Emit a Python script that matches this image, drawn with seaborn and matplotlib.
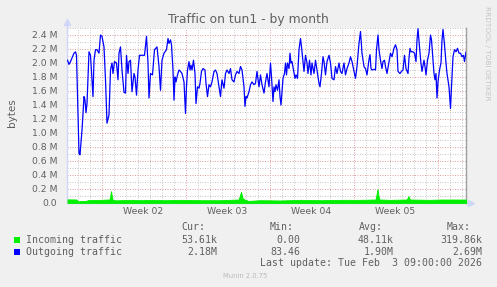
import numpy as np
import pandas as pd
import matplotlib
matplotlib.use("Agg")
import matplotlib.pyplot as plt
import matplotlib.dates as mdates
import matplotlib.transforms as mtransforms
from matplotlib.patches import Rectangle
from matplotlib.ticker import FuncFormatter, MultipleLocator
import seaborn as sns

# ---------------- data ----------------
base_time = "2025-12-31 00:00"
range_start_h = 27          # hours after base_time
range_end_h = 825           # Feb 3 09:00

out_hours = [28, 31, 34, 41, 44, 46, 51, 53, 57, 61, 63, 65, 67, 71, 74, 79, 81, 84, 87, 91,
             94, 97, 101, 104, 107, 111, 114, 117, 119, 122, 126, 129, 131, 134, 137, 141, 144, 146, 149, 151,
             154, 157, 161, 163, 166, 169, 172, 177, 182, 186, 189, 191, 194, 198, 202, 207, 211, 214, 217, 221,
             226, 229, 231, 234, 236, 239, 241, 243, 245, 248, 251, 254, 257, 261, 264, 266, 268, 271, 273, 275,
             277, 280, 283, 285, 288, 291, 293, 296, 299, 303, 305, 308, 311, 314, 317, 321, 324, 327, 331, 334,
             337, 341, 344, 347, 351, 354, 357, 361, 364, 367, 371, 374, 377, 381, 383, 385, 387, 391, 394, 397,
             401, 404, 407, 411, 414, 417, 421, 424, 427, 431, 434, 436, 439, 441, 443, 445, 448, 451, 453, 455,
             457, 459, 462, 464, 466, 468, 471, 473, 475, 477, 480, 483, 485, 488, 491, 494, 496, 499, 501, 504,
             507, 509, 512, 515, 517, 521, 524, 527, 531, 533, 536, 539, 541, 544, 547, 551, 554, 557, 561, 564,
             567, 571, 574, 577, 581, 584, 587, 591, 594, 597, 601, 604, 607, 611, 614, 617, 621, 624, 627, 631,
             633, 635, 637, 641, 644, 646, 649, 651, 654, 657, 659, 662, 664, 667, 671, 674, 677, 681, 684, 687,
             689, 693, 696, 699, 702, 705, 709, 711, 713, 715, 719, 722, 725, 727, 729, 732, 735, 737, 741, 743,
             745, 748, 751, 754, 756, 759, 761, 763, 765, 767, 769, 772, 775, 777, 779, 782, 785, 787, 791, 794,
             796, 799, 802, 805, 808, 811, 814, 817, 820, 822, 825]
out_mbytes = [2.04, 1.98, 2.02, 2.14, 2.16, 2.11, 0.71, 0.69, 1.04, 1.52, 1.47, 1.29, 1.42, 2.16, 2.11, 1.52, 2.04, 2.19, 2.19, 2.14,
              2.40, 2.38, 2.23, 1.76, 1.14, 1.26, 1.90, 2.00, 1.85, 2.02, 2.00, 1.76, 2.14, 2.23, 1.90, 1.58, 1.57, 2.11, 1.85, 2.02,
              2.04, 1.59, 1.85, 1.80, 1.54, 1.90, 2.11, 2.11, 2.11, 2.38, 2.00, 1.50, 1.85, 1.83, 2.19, 2.23, 1.95, 1.61, 2.04, 2.14,
              2.19, 2.35, 2.28, 2.33, 2.26, 1.90, 1.47, 1.80, 1.73, 1.83, 1.90, 1.88, 1.85, 1.73, 1.28, 1.66, 1.90, 2.02, 1.90, 1.97,
              1.90, 2.04, 1.85, 1.42, 1.66, 1.64, 1.71, 1.88, 1.92, 1.90, 1.71, 1.52, 1.69, 1.66, 1.73, 1.88, 1.90, 1.85, 1.66, 1.52,
              1.76, 1.64, 1.85, 1.90, 1.85, 1.92, 1.76, 1.73, 1.83, 1.88, 1.85, 1.95, 1.90, 1.66, 1.38, 1.52, 1.50, 1.59, 1.69, 1.73,
              1.69, 1.71, 1.88, 1.66, 1.83, 1.69, 1.57, 1.73, 1.85, 1.66, 2.00, 1.80, 1.45, 1.66, 1.59, 1.69, 1.61, 1.76, 1.52, 1.40,
              1.59, 1.78, 1.85, 2.00, 1.83, 2.00, 1.92, 2.14, 2.00, 2.02, 1.90, 1.78, 1.83, 1.78, 2.19, 2.35, 2.23, 2.02, 1.88, 2.11,
              2.00, 1.85, 2.04, 1.83, 2.00, 1.85, 2.04, 1.90, 1.71, 1.66, 1.85, 2.09, 2.02, 1.83, 2.02, 2.11, 2.00, 1.78, 1.76, 1.95,
              1.85, 2.00, 1.88, 1.85, 2.00, 1.83, 1.92, 2.00, 2.09, 2.02, 1.88, 1.78, 1.95, 2.28, 2.45, 2.14, 1.95, 1.92, 1.83, 2.05,
              2.12, 1.92, 1.90, 1.91, 1.90, 2.19, 2.40, 2.19, 2.04, 1.92, 2.02, 2.04, 1.95, 1.85, 2.02, 2.14, 2.09, 2.21, 2.26, 2.19,
              1.88, 1.85, 1.88, 1.90, 2.11, 1.92, 1.85, 2.07, 2.21, 2.16, 2.16, 2.14, 2.02, 2.33, 2.49, 2.23, 1.99, 1.88, 2.04, 1.95,
              1.83, 2.04, 2.14, 2.40, 2.33, 2.04, 1.85, 1.76, 1.85, 1.50, 1.73, 1.90, 2.00, 2.33, 2.48, 2.26, 2.00, 1.85, 1.66, 1.35,
              1.66, 2.09, 2.19, 2.16, 2.21, 2.14, 2.14, 2.09, 2.11, 2.02, 2.16]

in_hours = [28, 46, 48, 64, 70, 94, 110, 112, 115, 118, 124, 154, 174, 194, 224, 254, 294, 334, 370, 372,
            375, 378, 382, 390, 414, 454, 494, 534, 574, 614, 644, 646, 648, 650, 652, 674, 706, 708, 710, 712,
            714, 754, 774, 825]
in_mbytes = [0.053, 0.05, 0.028, 0.03, 0.042, 0.045, 0.05, 0.05, 0.17, 0.05, 0.038, 0.045, 0.04, 0.045, 0.04, 0.045, 0.04, 0.04, 0.05, 0.09,
             0.16, 0.07, 0.05, 0.03, 0.04, 0.036, 0.045, 0.04, 0.045, 0.045, 0.05, 0.12, 0.20, 0.10, 0.05, 0.045, 0.05, 0.07, 0.10, 0.06,
             0.05, 0.045, 0.05, 0.05]

week_labels = ["Week 02", "Week 03", "Week 04", "Week 05"]

legend_rows = ["Incoming traffic", "Outgoing traffic"]
stat_headers = ["Cur:", "Min:", "Avg:", "Max:"]
stat_in = ["53.61k", "0.00", "48.11k", "319.86k"]
stat_out = ["2.18M", "83.46", "1.90M", "2.69M"]
last_update = "Last update: Tue Feb  3 09:00:00 2026"

# ---------------- style ----------------
sns.set_theme(style="white")
plt.rcParams["font.family"] = ["DejaVu Sans"]

BG = "#F0F0F0"
FONT = "#606060"
AXIS = "#CFD6F8"
GREEN = "#00F000"
BLUE = "#0000FF"

W, H = 497, 287
fig = plt.figure(figsize=(W / 100, H / 100), dpi=100, facecolor=BG)

def fx(px):
    return px / W

def fy(py):
    return 1 - py / H

ax = fig.add_axes([fx(67), fy(203), fx(466) - fx(67), fy(28) - fy(203)])
ax.set_facecolor("white")

t0 = pd.Timestamp(base_time)
out_t = t0 + pd.to_timedelta(out_hours, unit="h")
in_t = t0 + pd.to_timedelta(in_hours, unit="h")
in_vals = np.array(in_mbytes) * 1e6
out_vals = np.array(out_mbytes) * 1e6

ax.fill_between(in_t, 0, in_vals, color=GREEN, edgecolor=GREEN, linewidth=0.6, zorder=3)
sns.lineplot(x=out_t, y=out_vals, ax=ax, color=BLUE, linewidth=0.9,
             estimator=None, sort=False, zorder=4)

ax.set_xlim(t0 + pd.Timedelta(hours=range_start_h), t0 + pd.Timedelta(hours=range_end_h))
ax.set_ylim(0, 2.5e6)
ax.set_xlabel("")
ax.set_ylabel("")

# grid
dot = (0, (1, 1.5))
ax.xaxis.set_major_locator(mdates.WeekdayLocator(byweekday=mdates.SU))
ax.xaxis.set_minor_locator(mdates.DayLocator())
ax.xaxis.set_major_formatter(FuncFormatter(lambda v, p: ""))
ax.yaxis.set_major_locator(MultipleLocator(0.2e6))
ax.yaxis.set_minor_locator(MultipleLocator(0.1e6))
ax.yaxis.set_major_formatter(FuncFormatter(
    lambda v, p: "0.0" if abs(v) < 1 else f"{v / 1e6:.1f} M"))
ax.grid(which="minor", color="#C8C8C8", linestyle=dot, linewidth=0.72, zorder=1)
ax.grid(which="major", color="#E0A0A0", linestyle=dot, linewidth=0.72, zorder=2)
ax.set_axisbelow(True)

ax.tick_params(axis="y", which="both", length=2, width=0.7, color=AXIS,
               labelsize=6.7, labelcolor=FONT, pad=5)
ax.tick_params(axis="x", which="both", length=2, width=0.7, color=AXIS,
               labelsize=6.7, labelcolor=FONT)

for s in ("top", "left", "bottom"):
    ax.spines[s].set_visible(False)
ax.spines["right"].set_color("#A0A0A0")
ax.spines["right"].set_linewidth(1.0)

# axis lines with arrows
ax.plot([0, 0], [0, 1.03], transform=ax.transAxes, color=AXIS, lw=1, clip_on=False, zorder=2.5)
ax.plot([0, 1.01], [0, 0], transform=ax.transAxes, color=AXIS, lw=1, clip_on=False, zorder=2.5)
ax.plot([0], [1.035], marker="^", markersize=4, color=AXIS, transform=ax.transAxes,
        clip_on=False, zorder=5)
ax.plot([1.012], [0], marker=">", markersize=4, color=AXIS, transform=ax.transAxes,
        clip_on=False, zorder=5)

# week labels in the middle of each week
trans = mtransforms.blended_transform_factory(ax.transData, fig.transFigure)
first_sunday = t0 + pd.Timedelta(days=4)
for i, lab in enumerate(week_labels):
    tc = first_sunday + pd.Timedelta(days=7 * i + 3.5)
    ax.text(mdates.date2num(tc), fy(212), lab, transform=trans, ha="center", va="center",
            fontsize=6.7, color=FONT)

# titles and side texts
fig.text(fx(248.5), fy(19), "Traffic on tun1 - by month", ha="center", va="center",
         fontsize=8.9, color=FONT)
fig.text(fx(12), fy(113), "bytes", rotation=90, ha="center", va="center",
         fontsize=7.5, color=FONT)
fig.text(fx(487), fy(53), "RRDTOOL / TOBI OETIKER", rotation=270, ha="center", va="center",
         fontsize=5.3, color="#C4C4C4")

# legend
mono = dict(family="DejaVu Sans Mono", fontsize=7.1, color=FONT, va="center")
header_x = [181, 270, 359, 447]
for hx, htxt in zip(header_x, stat_headers):
    fig.text(fx(hx), fy(227.5), htxt, ha="left", **mono)

value_right = [217, 300, 394, 482]
for row_y, name, stats, col in [(240, legend_rows[0], stat_in, GREEN),
                                (252, legend_rows[1], stat_out, BLUE)]:
    fig.patches.append(Rectangle((fx(14), fy(row_y + 3)), fx(6), 6 / H,
                                 transform=fig.transFigure, facecolor=col,
                                 edgecolor="none", figure=fig))
    fig.text(fx(26), fy(row_y), name, ha="left", **mono)
    for rx, sv in zip(value_right, stats):
        fig.text(fx(rx), fy(row_y), sv, ha="right", **mono)

fig.text(fx(482), fy(263.5), last_update, ha="right", **mono)
fig.text(fx(223), fy(276), "Munin 2.0.75", ha="left", va="center", fontsize=4.9,
         color="#BBBBBB")

fig.savefig("out.png", dpi=100, facecolor=BG)
